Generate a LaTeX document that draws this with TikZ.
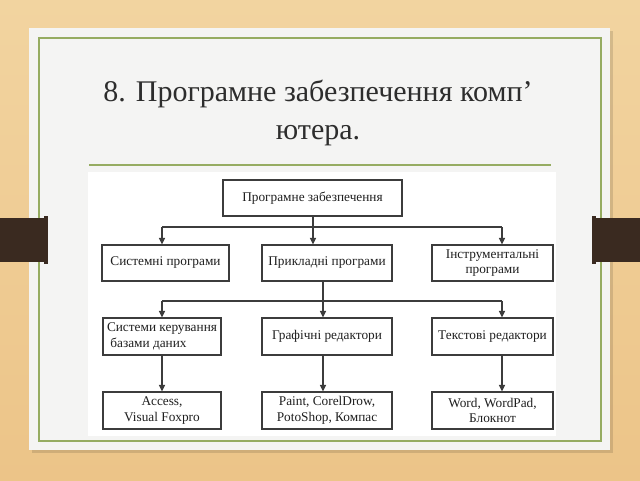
\documentclass[tikz,border=0pt]{standalone}
\usepackage{fontspec}
\setmainfont{Liberation Serif}
\usetikzlibrary{arrows.meta}

\definecolor{wood}{RGB}{236,196,136}
\definecolor{woodlight}{RGB}{242,212,160}
\definecolor{slide}{RGB}{244,244,243}
\definecolor{framegreen}{RGB}{150,172,98}
\definecolor{tabbrown}{RGB}{58,42,32}
\definecolor{boxline}{RGB}{60,60,60}
\definecolor{titletext}{RGB}{45,45,45}

\tikzset{
  box/.style={draw=boxline, line width=1.2pt, fill=white, minimum height=36pt,
    inner sep=1pt, align=center, text=black!88,
    font=\fontsize{13.3}{15.5}\selectfont},
  link/.style={draw=boxline, line width=1.3pt},
  arrow/.style={link, -{Triangle[length=6.5pt,width=6pt]}}
}

\begin{document}
\begin{tikzpicture}[x=1pt,y=-1pt]
      \useasboundingbox (0,0) rectangle (640,480);
      % background and slide
      \shade[top color=woodlight, bottom color=wood] (0,0) rectangle (640,480);
      \fill[black, opacity=.12] (32,31) rectangle (613,453);
      \fill[slide] (29,28) rectangle (610,450);
      \draw[framegreen, line width=1.5pt] (39,38) rectangle (601,441);
      \fill[tabbrown] (0,218) rectangle (45,262);
      \fill[tabbrown] (44,216) rectangle (48,264);
      \fill[tabbrown] (595,218) rectangle (640,262);
      \fill[tabbrown] (592,216) rectangle (596,264);
      % title
      \node[text=titletext, align=center, font=\fontsize{30}{38}\selectfont] (title)
        at (318,113) {8. Програмне забезпечення комп’\\ютера.};
      \draw[framegreen, line width=2pt] (89,165) -- (551,165);
      \fill[white] (88,172) rectangle (556,436);
      % columns of the arrows
      \coordinate (cl) at (162,0);
      \coordinate (cm) at (323,0);
      \coordinate (cr) at (502,0);
      % boxes
      \node[box, minimum width=179pt] (soft) at (312.5,198) {Програмне забезпечення};
      \node[box, minimum width=127pt] (sys) at (165.5,263) {Системні програми};
      \node[box, minimum width=130pt] (appl) at (327,263) {Прикладні програми};
      \node[box, minimum width=121pt] (instr) at (492.5,263) {Інструментальні\\програми};
      \node[box, minimum width=118pt, minimum height=37pt, align=left] (dbms) at (162,336.5)
        {Системи керування\\\ базами даних};
      \node[box, minimum width=130pt, minimum height=37pt] (graph) at (327,336.5) {Графічні редактори};
      \node[box, minimum width=121pt, minimum height=37pt] (texted) at (492.5,336.5) {Текстові редактори};
      \node[box, minimum width=118pt, minimum height=37pt] (access) at (162,410.5) {Access,\\Visual Foxpro};
      \node[box, minimum width=130pt, minimum height=37pt] (paint) at (327,410.5)
        {Paint, CorelDrow,\\PotoShop, Компас};
      \node[box, minimum width=121pt, minimum height=37pt] (word) at (492.5,410.5)
        {Word, WordPad,\\Блокнот};
      % first level
      \coordinate (bus1) at (313,227);
      \draw[link] (soft.south -| bus1) -- (bus1);
      \draw[link] (bus1 -| cl) -- (bus1 -| cr);
      \draw[arrow] (bus1 -| cl) -- (sys.north -| cl);
      \draw[arrow] (bus1) -- (appl.north -| bus1);
      \draw[arrow] (bus1 -| cr) -- (instr.north -| cr);
      % second level
      \coordinate (bus2) at (323,301);
      \draw[link] (appl.south -| bus2) -- (bus2);
      \draw[link] (bus2 -| cl) -- (bus2 -| cr);
      \draw[arrow] (bus2 -| cl) -- (dbms.north -| cl);
      \draw[arrow] (bus2) -- (graph.north -| bus2);
      \draw[arrow] (bus2 -| cr) -- (texted.north -| cr);
      % third level
      \foreach \a/\b/\c in {dbms/access/cl, graph/paint/cm, texted/word/cr}
        \draw[arrow] (\a.south -| \c) -- (\b.north -| \c);
\end{tikzpicture}
\end{document}
